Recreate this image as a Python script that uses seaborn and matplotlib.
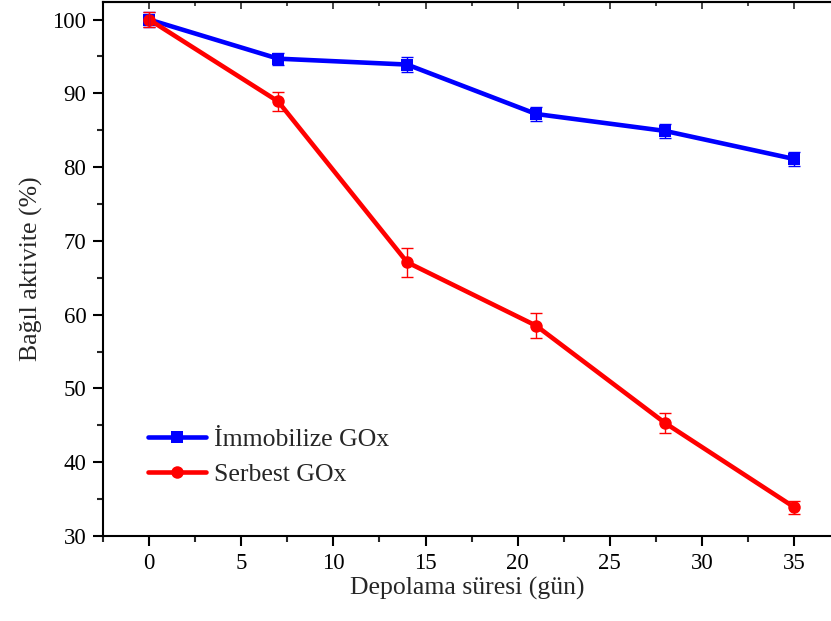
import pandas as pd
import matplotlib.pyplot as plt
import seaborn as sns

days = [0, 7, 14, 21, 28, 35]
immob = [100.0, 94.7, 93.9, 87.2, 84.9, 81.1]
immob_err = [1.0, 0.8, 1.0, 1.0, 0.9, 0.9]
serbest = [100.0, 88.9, 67.1, 58.5, 45.3, 33.9]
serbest_err = [1.0, 1.3, 2.0, 1.7, 1.3, 0.9]

df = pd.DataFrame({
    "gun": days * 2,
    "aktivite": immob + serbest,
    "seri": ["İmmobilize GOx"] * 6 + ["Serbest GOx"] * 6,
})

sns.set_style("ticks")
plt.rcParams['font.family'] = ['Liberation Serif', 'DejaVu Serif']

fig = plt.figure(figsize=(8.31, 6.21), dpi=100)
ax = fig.add_axes([0.124, 0.137, 0.876, 0.86])

ax.errorbar(days, immob, yerr=immob_err, fmt="none", ecolor="#0000ff",
            elinewidth=1, capsize=4.5, capthick=1, zorder=3)
ax.errorbar(days, serbest, yerr=serbest_err, fmt="none", ecolor="#ff0000",
            elinewidth=1, capsize=4.5, capthick=1, zorder=3)

sns.lineplot(data=df, x="gun", y="aktivite", hue="seri", style="seri",
             markers={"İmmobilize GOx": "s", "Serbest GOx": "o"}, dashes=False,
             palette={"İmmobilize GOx": "#0000ff", "Serbest GOx": "#ff0000"},
             linewidth=3.3, markersize=9, markeredgewidth=0, ax=ax, zorder=2)

ax.set_xlim(-2.5, 37)
ax.set_ylim(30, 102.4)
ax.set_xticks([0, 5, 10, 15, 20, 25, 30, 35])
ax.set_xticks([-2.5, 2.5, 7.5, 12.5, 17.5, 22.5, 27.5, 32.5], minor=True)
ax.set_yticks([30, 40, 50, 60, 70, 80, 90, 100])
ax.set_yticks([35, 45, 55, 65, 75, 85, 95], minor=True)
ax.tick_params(axis="both", which="major", direction="out", length=7, width=1.5,
               labelsize=16.5, colors="black", pad=5)
ax.tick_params(axis="both", which="minor", direction="out", length=4.5, width=1.5)
ax.spines["right"].set_visible(False)
for s in ["left", "bottom", "top"]:
    ax.spines[s].set_linewidth(1.5)
    ax.spines[s].set_color("black")

# top axis: inward ticks, no labels
top = ax.secondary_xaxis("top")
top.set_xticks([0, 5, 10, 15, 20, 25, 30, 35])
top.set_xticks([-2.5, 2.5, 7.5, 12.5, 17.5, 22.5, 27.5, 32.5], minor=True)
top.tick_params(which="major", direction="in", length=5, width=1.2, labeltop=False)
top.tick_params(which="minor", direction="in", length=3, width=1.2)
top.spines["top"].set_linewidth(1.5)

ax.set_xlabel("Depolama süresi (gün)", fontsize=18.5, labelpad=2.5)
ax.set_ylabel("Bağıl aktivite (%)", fontsize=18.5, labelpad=7)

leg = ax.legend(loc="lower left", bbox_to_anchor=(0.048, 0.075), frameon=False,
                fontsize=18.5, handlelength=2.25, handletextpad=0.3,
                labelspacing=0.45, borderaxespad=0)

fig.savefig("out.png", dpi=100)
